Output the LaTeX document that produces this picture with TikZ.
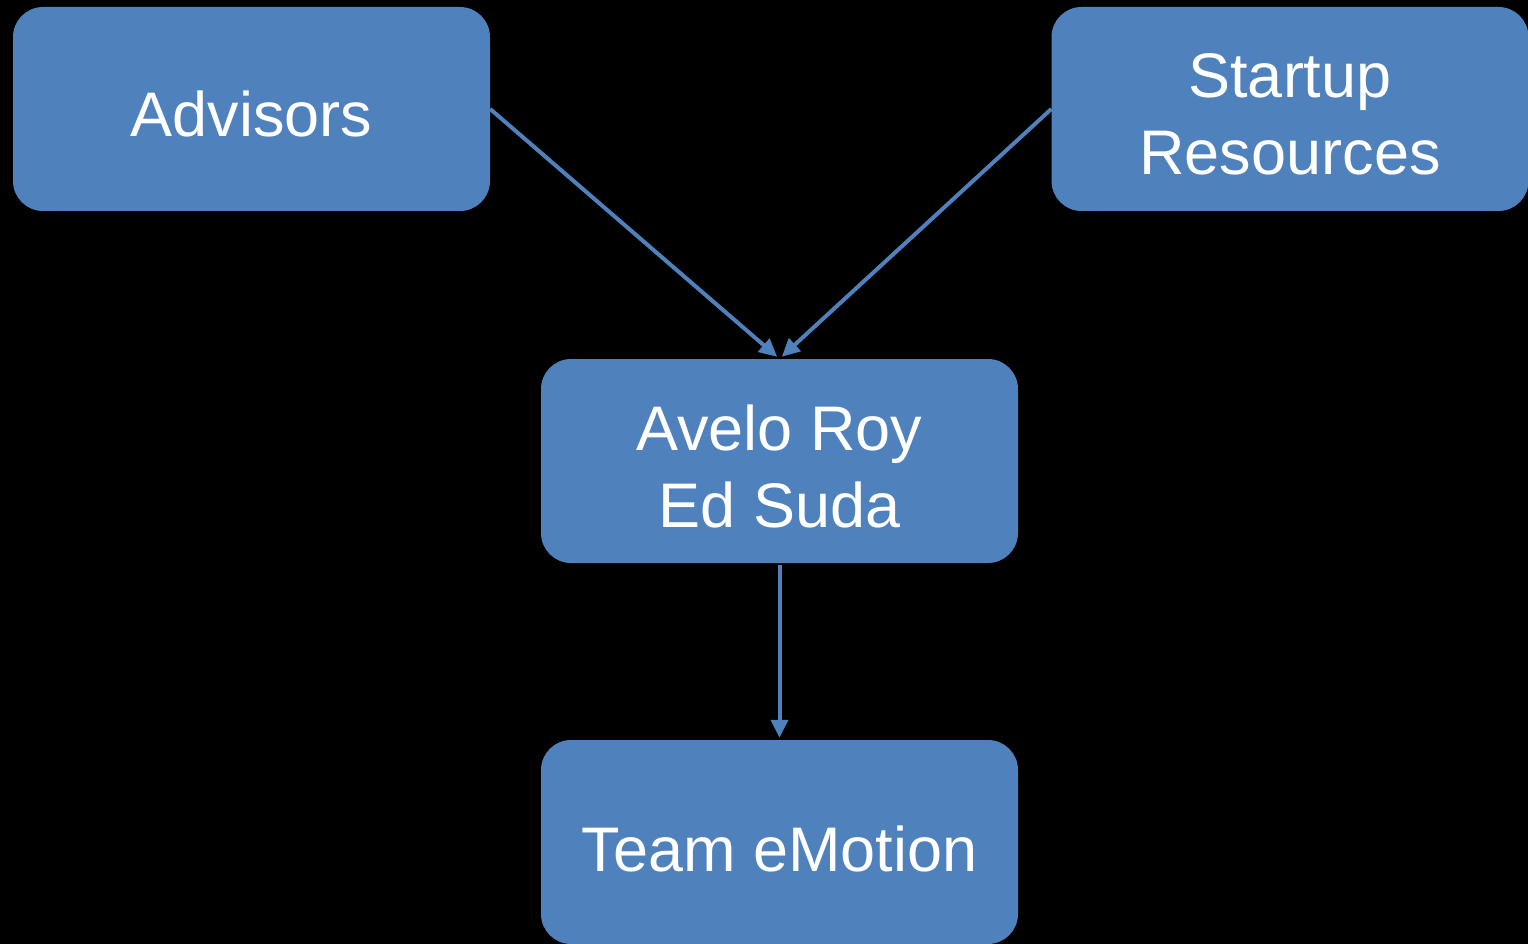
\documentclass[tikz,border=0pt]{standalone}
\usepackage{fontspec}
\setmainfont{Liberation Sans}
\usetikzlibrary{arrows.meta}
\definecolor{boxblue}{HTML}{4F81BD}
\tikzset{
  box/.style={draw=none, fill=boxblue, rounded corners=30pt, minimum width=477pt,
    minimum height=204pt, inner sep=0pt},
  boxtext/.style={text=white, align=center, inner sep=0pt, yshift=-5pt,
    font=\fontsize{63}{77}\selectfont},
  link/.style={draw=boxblue, line width=4pt, -{Triangle[length=18pt,width=17pt]}}
}
\begin{document}
\begin{tikzpicture}[x=1pt,y=-1pt]
  \fill[black] (0,0) rectangle (1528,944);
  \useasboundingbox (0,0) rectangle (1528,944);
  \node[box, label={[boxtext]center:Advisors}] (adv) at (251.5,109) {};
  \node[box, label={[boxtext]center:Startup\\Resources}] (start) at (1290,109) {};
  \node[box, label={[boxtext]center:Avelo Roy\\Ed Suda}] (lead) at (779.5,461) {};
  \node[box, label={[boxtext, yshift=-2pt]center:Team eMotion}] (team) at (779.5,842) {};
  \draw[link, shorten >=3pt] (adv.east) -- (lead.north);
  \draw[link, shorten >=3pt] (start.west) -- (lead.north);
  \draw[link, shorten <=2pt, shorten >=2pt] (lead.south) -- (team.north);
\end{tikzpicture}
\end{document}
